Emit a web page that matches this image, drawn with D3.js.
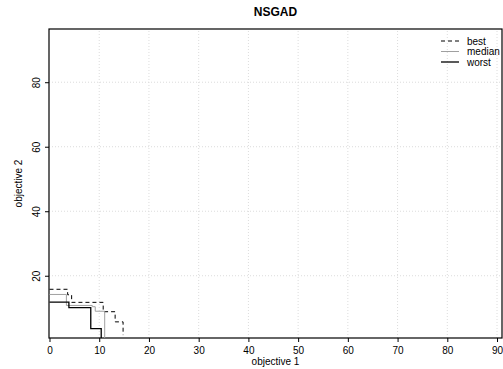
<!DOCTYPE html>
<html>
<head>
<meta charset="utf-8">
<script src="https://cdn.jsdelivr.net/npm/d3@7"></script>
<style>
  html, body { margin: 0; padding: 0; background: #fff; }
  svg { display: block; font-family: "Liberation Sans", Arial, sans-serif; }
</style>
</head>
<body>
<div id="chart"></div>
<script>
/* NSGAD attainment fronts: best / median / worst as step lines. */

var xTicks = [0, 10, 20, 30, 40, 50, 60, 70, 80, 90];
var yTicks = [20, 40, 60, 80];

// [objective 1, objective 2] corner points of each front
var best = [[0, 15.8], [3.65, 14.1], [4.45, 11.75], [10.8, 8.85], [13.2, 5.7], [14.8, 1.6]];
var median = [[0, 14.2], [3.4, 10.8], [8.6, 10.4], [9.2, 9.0], [11.1, 0.7]];
var worst = [[0, 11.8], [3.9, 10.1], [8.3, 3.6], [10.4, 0.7]];

var seriesNames = ["best", "median", "worst"];

var d3 = window.d3;
var width = 503, height = 369;
var margin = { top: 29, right: 1, bottom: 31, left: 49 };

var svg = d3.select("#chart").append("svg")
  .attr("width", width).attr("height", height);

var x = d3.scaleLinear().domain([-0.1, 91]).range([margin.left, width - margin.right]);
var y = d3.scaleLinear().domain([0.7, 96.5]).range([height - margin.bottom, margin.top]);

/* grid */
svg.append("g").selectAll("line").data(xTicks.slice(1)).enter().append("line")
  .attr("x1", function (d) { return x(d); }).attr("x2", function (d) { return x(d); })
  .attr("y1", y.range()[0]).attr("y2", y.range()[1])
  .attr("stroke", "#dcdcdc").attr("stroke-dasharray", "1 2").attr("stroke-width", 1);
svg.append("g").selectAll("line").data(yTicks).enter().append("line")
  .attr("x1", x.range()[0]).attr("x2", x.range()[1])
  .attr("y1", function (d) { return y(d); }).attr("y2", function (d) { return y(d); })
  .attr("stroke", "#dcdcdc").attr("stroke-dasharray", "1 2").attr("stroke-width", 1);

/* axes */
var xAxis = svg.append("g").attr("transform", "translate(0," + y.range()[0] + ")")
  .call(d3.axisBottom(x).tickValues(xTicks).tickSize(4).tickPadding(5));
var yAxis = svg.append("g").attr("transform", "translate(" + x.range()[0] + ",0)")
  .call(d3.axisLeft(y).tickValues(yTicks).tickSize(4));
[xAxis, yAxis].forEach(function (a) {
  a.select(".domain").remove();
  a.selectAll("text").attr("font-size", 10).attr("fill", "#000")
    .attr("font-family", "Liberation Sans, Arial, sans-serif");
  a.selectAll("line").attr("stroke", "#000");
});
// R style: y tick labels parallel to the axis
yAxis.selectAll(".tick text")
  .attr("x", 0).attr("y", 0).attr("dy", null)
  .attr("text-anchor", "middle")
  .attr("transform", "translate(-9,0) rotate(-90)");

/* box */
svg.append("rect")
  .attr("x", x.range()[0]).attr("y", y.range()[1])
  .attr("width", x.range()[1] - x.range()[0]).attr("height", y.range()[0] - y.range()[1])
  .attr("fill", "none").attr("stroke", "#000").attr("stroke-width", 1.2);

/* fronts */
var line = d3.line()
  .x(function (d) { return x(d[0]); })
  .y(function (d) { return y(d[1]); })
  .curve(d3.curveStepAfter);

var styles = {
  best: { stroke: "#000", width: 1, dash: "4 3" },
  median: { stroke: "#a0a0a0", width: 1, dash: null },
  worst: { stroke: "#000", width: 1.3, dash: null }
};
var dataByName = { best: best, median: median, worst: worst };

seriesNames.forEach(function (n) {
  svg.append("path").datum(dataByName[n])
    .attr("fill", "none")
    .attr("stroke", styles[n].stroke)
    .attr("stroke-width", styles[n].width)
    .attr("stroke-dasharray", styles[n].dash)
    .attr("d", line);
});

/* legend */
var lg = svg.append("g").attr("transform", "translate(441,41)");
seriesNames.forEach(function (n, i) {
  var yy = i * 10.5;
  lg.append("line").attr("x1", 0).attr("x2", 18).attr("y1", yy).attr("y2", yy)
    .attr("stroke", styles[n].stroke).attr("stroke-width", styles[n].width)
    .attr("stroke-dasharray", styles[n].dash);
  lg.append("text").attr("x", 26).attr("y", yy).attr("dy", "0.35em")
    .attr("font-size", 10).text(n);
});

/* titles */
svg.append("text").attr("x", (x.range()[0] + x.range()[1]) / 2).attr("y", 16)
  .attr("text-anchor", "middle").attr("font-size", 12).attr("font-weight", "bold")
  .text("NSGAD");
svg.append("text").attr("x", (x.range()[0] + x.range()[1]) / 2).attr("y", 365)
  .attr("text-anchor", "middle").attr("font-size", 10).text("objective 1");
svg.append("text")
  .attr("transform", "translate(22," + ((y.range()[0] + y.range()[1]) / 2) + ") rotate(-90)")
  .attr("text-anchor", "middle").attr("font-size", 10).text("objective 2");
</script>
</body>
</html>
